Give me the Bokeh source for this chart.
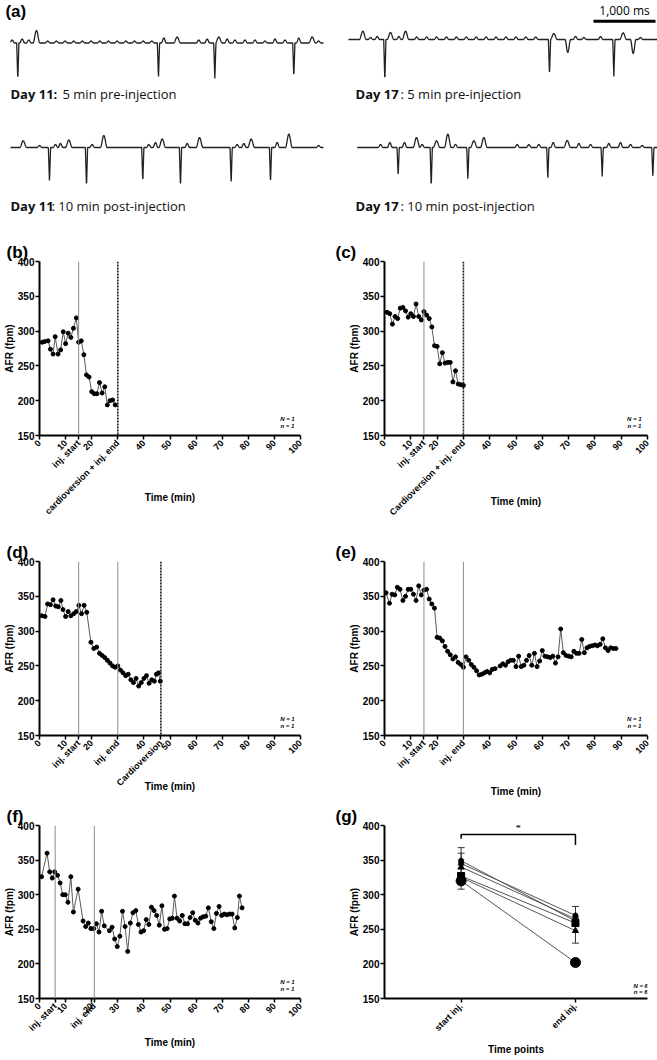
import numpy as np
from bokeh.plotting import figure
from bokeh.models import Range1d, FixedTicker, Span, ColumnDataSource, Whisker, TeeHead
from bokeh.layouts import column, row
from bokeh.core.properties import value
from bokeh.embed import file_html
from bokeh.resources import INLINE

# ---------------- data ----------------
# (a) ECG traces: QRS spike times (ms) with depths, and wave bumps (ms) with heights (a.u.)
d11_pre_spikes = [118, 2387, 3296, 4570]
d11_pre_depths = [37.5, 35.5, 35.5, 34.5]
d11_pre_bumps = [27, 188, 296, 419, 600, 740, 880, 1020, 1160, 1300, 1440, 1580, 1720, 1860,
                 2000, 2140, 2280, 2473, 2688, 3037, 3172, 3360, 3495, 3620, 3782, 3944, 4105,
                 4267, 4428, 4650, 4866, 4970]
d11_pre_heights = [3, 4, 3, 12.5, 2, 2, 2, 2, 2, 2, 2, 2, 2, 2, 2, 2, 2, 5, 6, 3, 4, 6, 4, 3, 3,
                   3, 2, 4, 3, 5, 6, 2]

d11_post_spikes = [629, 1226, 2134, 2742, 3559, 4194]
d11_post_depths = [35, 40, 35, 40, 36, 36]
d11_post_bumps = [205, 468, 726, 806, 941, 1317, 1505, 2231, 2339, 2447, 2850, 3049, 3656, 3764,
                  3882, 4302, 4490, 4970]
d11_post_heights = [6.7, 2, 3, 4, 7.5, 3, 12, 3, 5, 8.5, 4, 10, 3, 4, 8.5, 5, 13.5, 2]

d17_pre_spikes = [586, 3242, 4280]
d17_pre_depths = [42, 36, 37]
d17_pre_dips = [3537, 4592]
d17_pre_dip_depths = [13, 14]
d17_pre_bumps = [231, 355, 463, 677, 812, 920, 1100, 1260, 1420, 1580, 1740, 1900, 2060, 2220,
                 2380, 2540, 2700, 2860, 3020, 3312, 3662, 3796, 4065, 4430, 4710]
d17_pre_heights = [8.3, 2, 3, 7, 3, 8.3, 2.5, 2.5, 2.5, 2.5, 2.5, 2.5, 2.5, 2.5, 2.5, 2.5, 2.5,
                   2.5, 2.5, 6, 3, 2, 3, 6.7, 2]

d17_post_spikes = [801, 1334, 1925, 3215, 4092, 4909]
d17_post_depths = [28, 40, 33, 32, 29, 30]
d17_post_bumps = [516, 667, 903, 1097, 1188, 1420, 1602, 1726, 2022, 2183, 2721, 2909, 3070,
                  3302, 3527, 3715, 3904, 4199, 4387, 4549, 4737]
d17_post_heights = [3, 5, 5, 10, 3, 6.7, 13.3, 3, 6.7, 10, 3, 3, 3, 5, 7, 4, 3, 4, 5, 3, 2]

scale_bar_ms = 1000

# (b)
b_time = [1, 2, 3.3, 4.2, 5.2, 6, 7.1, 8.1, 9.1, 10, 11, 12, 13, 14.1, 15, 16, 17, 18, 19, 20,
          21, 22, 23, 24, 25, 26, 27, 28, 29]
b_afr = [284, 285, 286, 274, 267, 292, 267, 273, 299, 282, 297, 291, 304, 319, 284, 286, 266,
         237, 234, 213, 210, 210, 226, 211, 220, 194, 200, 201, 194]
b_events = [15]
b_cardioversion = [30]

# (c)
c_time = [1, 2, 3, 4, 5, 6, 7, 8, 9, 10, 11, 12, 13, 14, 15, 16, 17, 18, 19, 20, 21, 22, 23,
          24, 25, 26, 27, 28, 29, 30]
c_afr = [327, 325, 310, 321, 318, 333, 334, 329, 320, 325, 321, 339, 321, 316, 328, 323, 318,
         306, 279, 278, 253, 269, 254, 255, 255, 227, 243, 224, 223, 222]
c_events = [15]
c_cardioversion = [30]

# (d)
d_time = [0.9, 2.1, 3.1, 4.2, 5.2, 6.2, 7.2, 8.2, 9, 10, 11, 12, 13.1, 14.1, 15.1, 16.1, 17.1,
          18.1, 19.7, 20.8, 21.9, 23, 24, 25, 26, 27, 28, 29, 30, 31, 32, 33, 34, 35, 36, 37,
          38, 39, 40, 41, 42, 43, 44, 44.8, 45.6, 46.3]
d_afr = [322, 321, 339, 338, 345, 336, 335, 344, 331, 321, 328, 322, 325, 328, 337, 325, 337,
         327, 284, 275, 277, 268, 265, 262, 258, 254, 250, 248, 250, 244, 240, 236, 238, 230,
         226, 232, 221, 226, 232, 236, 225, 230, 228, 238, 240, 228]
d_events = [15, 30]
d_cardioversion = [46.5]

# (e)
e_time = [0.6, 1.9, 2.9, 3.9, 4.9, 5.9, 7, 8, 9, 10, 11, 12, 13, 14, 15, 16, 17, 18, 19, 20, 21,
          22, 23, 24, 25, 26, 27, 28, 29, 30, 31, 32, 33, 34, 35, 36, 37, 38, 39, 40, 41, 42,
          44, 45, 46, 47, 48, 49, 50, 51, 52, 53, 54, 55, 56, 57, 58, 59, 60, 61, 62, 63, 64,
          65, 66, 67, 68, 69, 70, 71, 72, 73, 74, 75, 76, 77, 78, 79, 80, 81, 82, 83, 84, 85,
          86, 87, 88]
e_afr = [355, 340, 353, 352, 363, 360, 344, 350, 360, 360, 353, 344, 365, 352, 359, 360, 346,
         339, 333, 291, 290, 286, 278, 271, 266, 260, 263, 255, 252, 248, 263, 258, 252, 248,
         243, 237, 238, 240, 242, 240, 245, 246, 250, 253, 251, 256, 258, 258, 249, 264, 249,
         251, 258, 265, 251, 268, 249, 257, 272, 264, 263, 262, 264, 254, 263, 303, 269, 265,
         264, 263, 271, 268, 268, 288, 269, 276, 278, 279, 280, 279, 281, 289, 276, 272, 276,
         275, 275]
e_events = [15, 30]

# (f)
f_time = [0.8, 2.9, 3.9, 4.9, 5.8, 6.9, 7.9, 8.9, 9.9, 10.9, 12, 13, 14.8, 16.7, 17.7, 18.7,
          19.7, 20.8, 21.8, 22.8, 23.8, 24.8, 26.8, 27.8, 28.8, 29.8, 30.8, 31.8, 32.8, 33.8,
          34.8, 35.8, 36.9, 37.9, 38.9, 39.9, 40.9, 41.9, 42.9, 43.9, 44.9, 45.9, 46.9, 47.9,
          48.9, 49.9, 50.9, 51.7, 52.7, 53.7, 54.7, 55.7, 56.7, 57.7, 58.7, 59.7, 60.7, 61.7,
          62.7, 63.7, 64.7, 65.8, 66.8, 67.8, 68.8, 69.8, 70.8, 71.8, 72.8, 73.8, 74.8, 75.8,
          76.6, 77.6]
f_afr = [326, 360, 333, 324, 333, 328, 317, 300, 300, 289, 326, 275, 308, 262, 254, 259, 251,
         251, 258, 246, 276, 255, 248, 253, 236, 225, 240, 276, 254, 218, 259, 274, 277, 257,
         246, 248, 264, 257, 282, 277, 270, 256, 284, 250, 251, 265, 266, 298, 266, 262, 270,
         258, 258, 267, 274, 263, 259, 266, 268, 269, 281, 261, 251, 273, 283, 270, 272, 271,
         272, 272, 252, 267, 298, 281]
f_events = [6, 21]

# (g)
g_categories = ["start inj.", "end inj."]
g_start = [349, 345, 340, 327, 325, 320]
g_end = [262, 270, 265, 259, 248, 202]
g_start_sd = [19, 15, 3, 3, 3, 12]
g_end_sd = [3, 13, 3, 3, 18, 2]
g_markers = ["circle", "circle", "triangle", "square", "triangle", "circle"]
g_marker_sizes = [5, 5, 6, 7, 6, 10]
g_bracket = 387

y_ticks = [150, 200, 250, 300, 350, 400]

FONT = "Liberation Sans"
UI_FONT = "Open Sans"


# ---------------- helpers ----------------
def build_trace(t0, t1, spikes, depths, bumps, heights, dips=(), dip_depths=()):
    t = np.arange(t0, t1 + 1, 4.0)
    v = np.zeros_like(t)
    for tb, h in zip(bumps, heights):
        w = 55.0 if h > 5 else 40.0
        d = np.abs(t - tb)
        v += np.where(d < w, h * 0.5 * (1 + np.cos(np.pi * d / w)), 0)
    for ts, dep in zip(spikes, depths):
        v -= dep * np.clip(1 - np.abs(t - ts) / 18.0, 0, None)
    for ts, dep in zip(dips, dip_depths):
        d = np.abs(t - ts)
        v -= np.where(d < 45, dep * 0.5 * (1 + np.cos(np.pi * d / 45)), 0)
    return t, v


def trace_fig(width, xr):
    p = figure(width=width, height=238, x_range=Range1d(*xr), y_range=Range1d(-238, 0),
               output_backend="svg", toolbar_location=None, x_axis_type=None,
               y_axis_type=None, min_border=0)
    p.grid.visible = False
    p.outline_line_color = None
    return p


def two_part_label(p, x_bold, x_norm, y, bold_txt, norm_txt):
    p.text(x=[x_bold], y=[y], text=[bold_txt], text_font=value(UI_FONT),
           text_font_size="13px", text_font_style="bold", text_baseline="middle",
           text_color="#111111")
    p.text(x=[x_norm], y=[y], text=[norm_txt], text_font=value(UI_FONT),
           text_font_size="13px", text_baseline="middle", text_color="#111111")


def chart(title, w, h, bl, br, bt, bb, xr, ticks, overrides, xlabel, xl_standoff, title_off):
    p = figure(width=w, height=h, x_range=Range1d(*xr), y_range=Range1d(150, 400),
               output_backend="svg", toolbar_location=None, title=title,
               min_border_left=bl, min_border_right=br, min_border_top=bt,
               min_border_bottom=bb)
    p.title.text_font = FONT
    p.title.text_font_size = "17px"
    p.title.text_font_style = "bold"
    p.title.text_color = "black"
    p.title.align = "left"
    p.title.offset = title_off
    p.title.standoff = 0
    p.grid.visible = False
    p.outline_line_color = None
    p.xaxis.ticker = FixedTicker(ticks=ticks)
    p.xaxis.major_label_overrides = overrides
    p.xaxis.major_label_orientation = np.pi / 4
    p.yaxis.ticker = FixedTicker(ticks=y_ticks)
    for ax in p.axis:
        ax.axis_line_width = 2
        ax.axis_line_color = "black"
        ax.major_tick_line_width = 1.5
        ax.major_tick_line_color = "black"
        ax.major_tick_out = 4
        ax.major_tick_in = 0
        ax.minor_tick_line_color = None
        ax.major_label_text_font = FONT
        ax.major_label_text_font_style = "bold"
        ax.major_label_text_color = "black"
        ax.axis_label_text_font = FONT
        ax.axis_label_text_font_style = "bold"
        ax.axis_label_text_font_size = "10px"
        ax.axis_label_text_color = "black"
    p.xaxis.major_label_text_font_size = "9px"
    p.xaxis.major_label_standoff = 2
    p.yaxis.major_label_text_font_size = "10px"
    p.yaxis.major_label_standoff = 1
    p.yaxis.axis_label = "AFR (fpm)"
    p.yaxis.axis_label_standoff = 0
    p.xaxis.axis_label = xlabel
    p.xaxis.axis_label_standoff = xl_standoff
    return p


def add_series(p, t, y, events, cardio=(), nlabel=("N = 1", "n = 1")):
    for ev in events:
        p.add_layout(Span(location=ev, dimension="height", line_color="#8c8c8c", line_width=1))
    for ev in cardio:
        p.add_layout(Span(location=ev, dimension="height", line_color="#1a1a1a",
                          line_width=1.6, line_dash="2 1"))
    p.line(t, y, line_color="#5a5a5a", line_width=1)
    p.scatter(t, y, size=4, color="black")
    p.text(x=[95, 95], y=[174, 164], text=list(nlabel), text_font=value(FONT),
           text_font_size="6px", text_font_style="bold italic", text_align="center",
           text_baseline="middle")


# ---------------- panel (a) ----------------
pa1 = trace_fig(333, (-161, 5210))
pa1.text(x=[-161 + 80], y=[-1], text=["(a)"], text_font=value(FONT), text_font_size="17px",
         text_font_style="bold", text_baseline="top")
t, v = build_trace(0, 5050, d11_pre_spikes, d11_pre_depths, d11_pre_bumps, d11_pre_heights)
pa1.line(t, v - 42.5, line_color="#222222", line_width=1.3)
t, v = build_trace(0, 5050, d11_post_spikes, d11_post_depths, d11_post_bumps, d11_post_heights)
pa1.line(t, v - 147, line_color="#222222", line_width=1.3)
two_part_label(pa1, 0, 839, -93, "Day 11:", "5 min pre-injection")
two_part_label(pa1, 0, 661, -205, "Day 11", ": 10 min post-injection")

pa2 = trace_fig(324, (-242, 4984))
t, v = build_trace(0, 4984, d17_pre_spikes, d17_pre_depths, d17_pre_bumps, d17_pre_heights,
                   d17_pre_dips, d17_pre_dip_depths)
pa2.line(t, v - 39, line_color="#222222", line_width=1.3)
t, v = build_trace(140, 4984, d17_post_spikes, d17_post_depths, d17_post_bumps,
                   d17_post_heights)
pa2.line(t, v - 147, line_color="#222222", line_width=1.3)
two_part_label(pa2, 113, 839, -93, "Day 17", ": 5 min pre-injection")
two_part_label(pa2, 113, 839, -205, "Day 17", ": 10 min post-injection")
bar_end = 4952
pa2.line([bar_end - scale_bar_ms, bar_end], [-20.7, -20.7], line_color="black", line_width=3)
pa2.text(x=[bar_end - scale_bar_ms / 2], y=[-9.5], text=["1,000 ms"], text_font=value(UI_FONT),
         text_font_size="12px", text_align="center", text_baseline="middle")

# ---------------- panels (b)-(f) ----------------
ticks_b = [0, 10, 15, 20, 30, 40, 50, 60, 70, 80, 90, 100]
pb = chart("(b)", 333, 300, 38, 33, 23, 103, (0, 100), ticks_b,
           {15: "inj. start", 30: "cardioversion + inj. end"}, "Time (min)", -31, -33)
add_series(pb, b_time, b_afr, b_events, b_cardioversion)

pc = chart("(c)", 324, 300, 51, 10, 23, 103, (0, 100), ticks_b,
           {15: "inj. start", 30: "Cardioversion + inj. end"}, "Time (min)", -28, -49)
add_series(pc, c_time, c_afr, c_events, c_cardioversion)

ticks_d = [0, 10, 15, 20, 30, 40, 46.5, 50, 60, 70, 80, 90, 100]
pd_ = chart("(d)", 333, 262, 38, 33, 23, 65, (0, 100), ticks_d,
            {15: "inj. start", 30: "inj. end", 46.5: "Cardioversion"}, "Time (min)", -13, -33)
add_series(pd_, d_time, d_afr, d_events, d_cardioversion)

ticks_e = [0, 10, 15, 20, 30, 40, 50, 60, 70, 80, 90, 100]
pe = chart("(e)", 324, 262, 51, 10, 23, 65, (0, 100), ticks_e,
           {15: "inj. start", 30: "inj. end"}, "Time (min)", 10, -49)
add_series(pe, e_time, e_afr, e_events)

ticks_f = [0, 6, 10, 20, 21, 30, 40, 50, 60, 70, 80, 90, 100]
pf = chart("(f)", 333, 260, 38, 33, 24, 62, (0, 100), ticks_f,
           {6: "inj. start", 21: "inj. end"}, "Time (min)", -2, -33)
add_series(pf, f_time, f_afr, f_events)

# ---------------- panel (g) ----------------
pg = chart("(g)", 324, 260, 51, 10, 25, 61, (0.33, 2.63), [1, 2],
           {1: g_categories[0], 2: g_categories[1]}, "Time points", 5, -49)
xs0 = [1] * len(g_start)
xs1 = [2] * len(g_end)
pg.segment(x0=xs0, y0=g_start, x1=xs1, y1=g_end, line_color="#555555", line_width=1)
err = ColumnDataSource(dict(
    x=xs0 + xs1,
    upper=[s + d for s, d in zip(g_start, g_start_sd)] + [s + d for s, d in zip(g_end, g_end_sd)],
    lower=[s - d for s, d in zip(g_start, g_start_sd)] + [s - d for s, d in zip(g_end, g_end_sd)],
))
pg.add_layout(Whisker(source=err, base="x", upper="upper", lower="lower",
                      line_color="#333333", line_width=1,
                      upper_head=TeeHead(size=7, line_color="#333333"),
                      lower_head=TeeHead(size=7, line_color="#333333")))
msrc = ColumnDataSource(dict(x=xs0 + xs1, y=g_start + g_end, m=g_markers + g_markers,
                             s=g_marker_sizes + g_marker_sizes))
pg.scatter("x", "y", marker="m", size="s", color="black", source=msrc)
pg.line([1, 1, 2, 2], [g_bracket - 6, g_bracket, g_bracket, g_bracket - 15],
        line_color="black", line_width=1.5)
pg.text(x=[1.5], y=[g_bracket - 1], text=["*"], text_font=value(FONT), text_font_size="13px",
        text_font_style="bold", text_align="center", text_baseline="bottom")
pg.text(x=[2.57, 2.57], y=[168, 159], text=["N = 6", "n = 6"], text_font=value(FONT),
        text_font_size="6px", text_font_style="bold italic", text_align="center",
        text_baseline="middle")

layout = column(row(pa1, pa2), row(pb, pc), row(pd_, pe), row(pf, pg))
open("out.html", "w").write(file_html(layout, INLINE))
